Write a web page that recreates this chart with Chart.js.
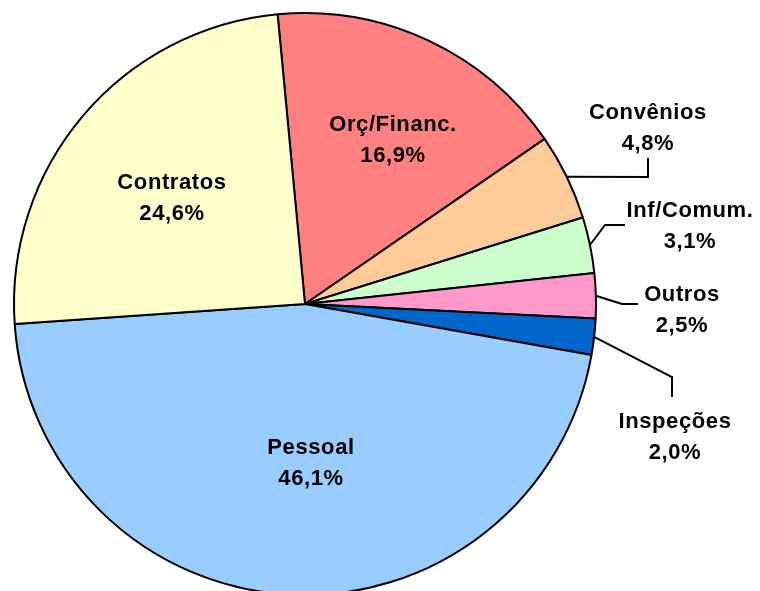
<!DOCTYPE html>
<html>
<head>
<meta charset="utf-8">
<script src="https://cdn.jsdelivr.net/npm/chart.js@4/dist/chart.umd.min.js"></script>
<style>
  html, body { margin: 0; padding: 0; background: #fff; }
  canvas { display: block; }
</style>
</head>
<body>
<canvas id="chart" width="760" height="591"></canvas>
<script>
const categories = ["Orç/Financ.", "Convênios", "Inf/Comum.", "Outros", "Inspeções", "Pessoal", "Contratos"];
const values = [16.9, 4.8, 3.1, 2.5, 2.0, 46.1, 24.6];
const percentLabels = ["16,9%", "4,8%", "3,1%", "2,5%", "2,0%", "46,1%", "24,6%"];
const colors = ["#FF8080", "#FFCC99", "#CCFFCC", "#FF99CC", "#0066CC", "#99CCFF", "#FFFFCC"];

// label layout: text centre [x, y] and (for outside labels) leader line elbow + end
const labelLayout = [
  { x: 393, y: 140 },
  { x: 648, y: 128, elbow: [648, 177], end: [648, 158] },
  { x: 690, y: 226, elbow: [605, 225], end: [625, 225] },
  { x: 682, y: 310, elbow: [622, 304], end: [638, 304] },
  { x: 675, y: 437, elbow: [672, 377], end: [672, 397] },
  { x: 311, y: 463 },
  { x: 172, y: 198 }
];

const labelPlugin = {
  id: "sliceLabels",
  afterDatasetsDraw(chart) {
    const ctx = chart.ctx;
    const arcs = chart.getDatasetMeta(0).data;
    ctx.save();
    ctx.fillStyle = "#000";
    ctx.strokeStyle = "#000";
    ctx.lineWidth = 2;
    ctx.font = "bold 22px 'Liberation Sans', Arial, sans-serif";
    ctx.letterSpacing = "0.6px";
    ctx.textAlign = "center";
    ctx.textBaseline = "middle";
    arcs.forEach((arc, i) => {
      const L = labelLayout[i];
      if (L.elbow) {
        const p = arc.getProps(["x", "y", "startAngle", "endAngle", "outerRadius"], true);
        const mid = (p.startAngle + p.endAngle) / 2;
        const sx = p.x + Math.cos(mid) * p.outerRadius;
        const sy = p.y + Math.sin(mid) * p.outerRadius;
        ctx.beginPath();
        ctx.moveTo(sx, sy);
        ctx.lineTo(L.elbow[0], L.elbow[1]);
        ctx.lineTo(L.end[0], L.end[1]);
        ctx.stroke();
      }
      ctx.fillText(categories[i], L.x, L.y - 15);
      ctx.fillText(percentLabels[i], L.x, L.y + 16);
    });
    ctx.restore();
  }
};

new Chart(document.getElementById("chart"), {
  type: "pie",
  data: {
    labels: categories,
    datasets: [{
      data: values,
      backgroundColor: colors,
      borderColor: "#000",
      borderWidth: 2
    }]
  },
  options: {
    responsive: false,
    animation: false,
    rotation: -5.4,
    radius: 291,
    layout: { padding: { left: 0, right: 150, top: 17, bottom: 0 } },
    plugins: {
      legend: { display: false },
      tooltip: { enabled: false }
    }
  },
  plugins: [labelPlugin]
});
</script>
</body>
</html>
